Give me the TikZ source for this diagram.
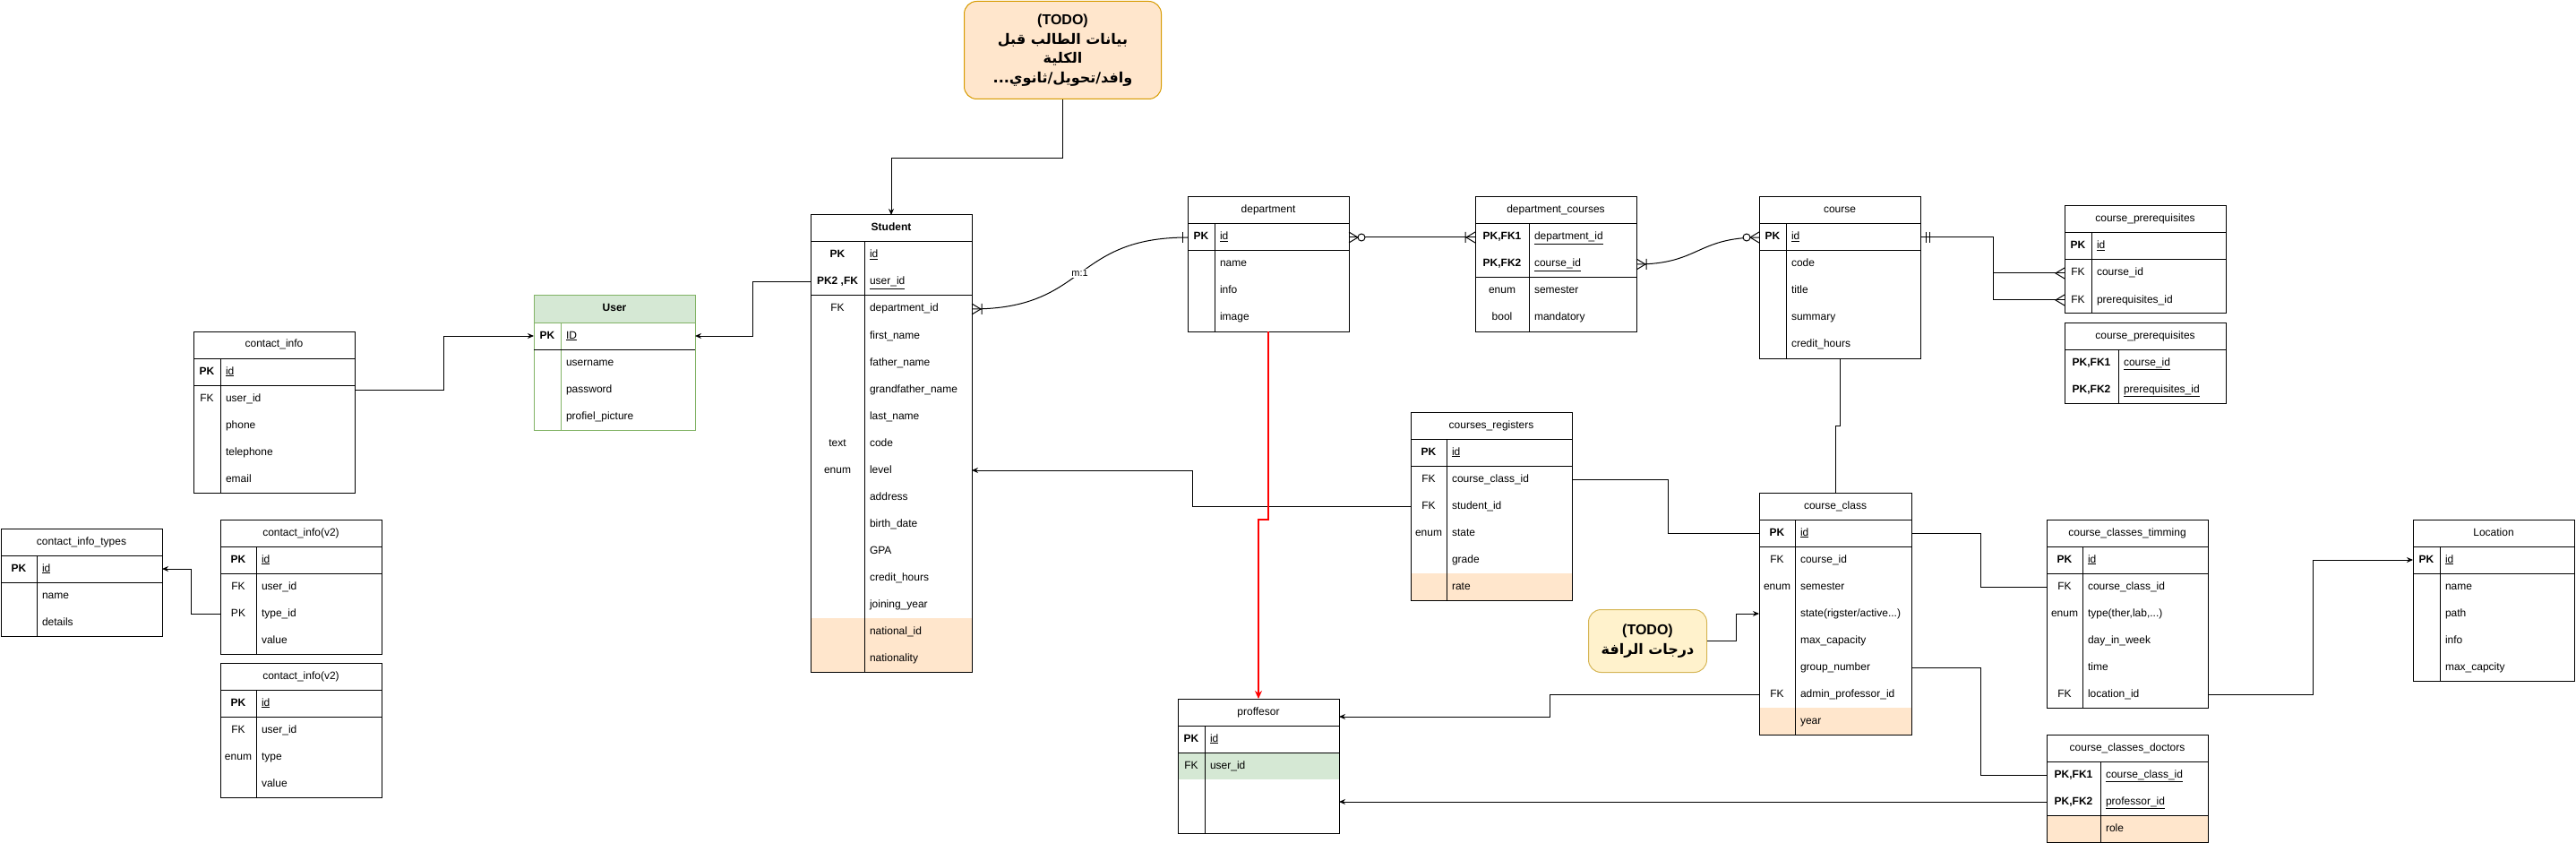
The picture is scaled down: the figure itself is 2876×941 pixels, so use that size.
\documentclass[tikz,border=0pt]{standalone}
\usepackage{fontspec}
\setmainfont{Liberation Sans}
\newfontfamily\arabicfont[Script=Arabic]{DejaVu Sans}
\TeXXeTstate=1
\usetikzlibrary{arrows.meta,calc}

\newcommand*{\erfont}{\fontsize{12}{14}\selectfont}
\definecolor{rowbeige}{HTML}{FFE6CC}
\definecolor{rowgreen}{HTML}{D5E8D4}
\definecolor{greenline}{HTML}{82B366}
\definecolor{notepeach}{HTML}{FFE6CC}
\definecolor{noteorange}{HTML}{D79B00}
\definecolor{noteyellow}{HTML}{FFF2CC}
\definecolor{notegold}{HTML}{D6B656}
\definecolor{linkred}{HTML}{FF0000}

\tikzstyle{tblhead}=[anchor=north west, minimum height=30pt, inner sep=0pt, outer sep=0pt, fill=white, font=\erfont, text height=9pt, text depth=3pt]
\tikzstyle{keycell}=[anchor=north west, minimum height=30pt, inner sep=0pt, outer sep=0pt, font=\erfont, text height=9pt, text depth=3pt]
\tikzstyle{fieldcell}=[anchor=west, minimum height=30pt, inner xsep=6pt, inner ysep=0pt, outer sep=0pt, align=left, font=\erfont, text height=9pt, text depth=3pt]
\tikzstyle{link}=[line width=1pt]
\tikzstyle{arr}=[link, -{Stealth[length=7pt, width=6pt]}]
\tikzstyle{redlink}=[line width=2pt, linkred, -{Stealth[length=9pt, width=8pt]}]
\tikzstyle{todo}=[anchor=north west, rounded corners=14pt, line width=1pt, align=center, font=\bfseries\fontsize{16}{21.5}\selectfont]
\tikzstyle{mlabel}=[fill=white, inner sep=1pt, font=\fontsize{11}{13}\selectfont]

% table parts: head, one row, outline
\newcommand{\ertable}[7][]{\def\tblw{#5}\def\keyw{#6}%
  \node[tblhead, minimum width=#5pt, #1] (#2) at (#3,#4) {#7};}
\newcommand{\errow}[5][white]{%
  \pgfmathsetmacro\fieldw{\tblw-\keyw-12}%
  \fill[#1] ($(#2.south west)+(0,{30*(#3-1)})$) rectangle ++(\tblw,30);
  \node[keycell, minimum width=\keyw pt] (#2-k#3) at ($(#2.south west)+(0,{30*(#3-1)})$) {#4};
  \node[fieldcell, text width=\fieldw pt] (#2-#3) at (#2-k#3.east) {#5};}
\newcommand{\erframe}[4][black]{%
  \draw[#1] (#2.north west) rectangle (#2-#3.south east);
  \draw[#1] (#2.south west) -- (#2.south east);
  \draw[#1] (#2-k1.north east) -- (#2-k#3.south east);
  \draw (#2-k#4.south west) -- (#2-#4.south east);}
\newcommand{\pkey}[1]{\textbf{#1}}
\newcommand{\pfield}[1]{\underline{#1}}

% crow's foot ends, #2 = 1 to the right, -1 to the left
\newcommand{\ermany}[2]{\draw[link, shift={(#1)}, xscale=#2] (0,-6) -- (10,0) -- (0,6);}
\newcommand{\erone}[2]{\draw[link, shift={(#1)}, xscale=#2] (6,-6) -- (6,6);}
\newcommand{\ermandone}[2]{\draw[link, shift={(#1)}, xscale=#2] (6,-6) -- (6,6) (10,-6) -- (10,6);}
\newcommand{\eronetomany}[2]{\draw[link, shift={(#1)}, xscale=#2] (0,-6) -- (10,0) -- (0,6) (11,-6) -- (11,6);}
\newcommand{\erzerotomany}[2]{\draw[link, shift={(#1)}, xscale=#2] (0,-6) -- (10,0) -- (0,6);
  \draw[link, fill=white, shift={(#1)}, xscale=#2] (14,0) circle[radius=4pt];}

\begin{document}
\begin{tikzpicture}[x=1pt, y=-1pt, line width=1pt]
    \useasboundingbox (0,0) rectangle (2876,941);

    % notes
    \node[todo, fill=notepeach, draw=noteorange, minimum width=220pt, minimum height=109pt] (todoa) at (1076,1)
        {(TODO)\\ {\arabicfont\beginR بيانات الطالب قبل\endR}\\ {\arabicfont\beginR الكلية\endR}\\
         {\arabicfont ...\hbox{ثانوي}/\hbox{تحويل}/\hbox{وافد}}};
    \node[todo, fill=noteyellow, draw=notegold, minimum width=132pt, minimum height=70pt] (todob) at (1773,680)
        {(TODO)\\ {\arabicfont\beginR درجات الرافة\endR}};

    % contact_info
    \ertable{cinfo}{216}{370}{180}{30}{contact\_info}
    \errow{cinfo}{1}{\pkey{PK}}{\pfield{id}}
    \errow{cinfo}{2}{FK}{user\_id}
    \errow{cinfo}{3}{}{phone}
    \errow{cinfo}{4}{}{telephone}
    \errow{cinfo}{5}{}{email}
    \erframe{cinfo}{5}{1}

    % contact_info_types
    \ertable{ctypes}{1}{590}{180}{40}{contact\_info\_types}
    \errow{ctypes}{1}{\pkey{PK}}{\pfield{id}}
    \errow{ctypes}{2}{}{name}
    \errow{ctypes}{3}{}{details}
    \erframe{ctypes}{3}{1}

    % contact_info(v2)
    \ertable{cinfoa}{246}{580}{180}{40}{contact\_info(v2)}
    \errow{cinfoa}{1}{\pkey{PK}}{\pfield{id}}
    \errow{cinfoa}{2}{FK}{user\_id}
    \errow{cinfoa}{3}{PK}{type\_id}
    \errow{cinfoa}{4}{}{value}
    \erframe{cinfoa}{4}{1}

    \ertable{cinfob}{246}{740}{180}{40}{contact\_info(v2)}
    \errow{cinfob}{1}{\pkey{PK}}{\pfield{id}}
    \errow{cinfob}{2}{FK}{user\_id}
    \errow{cinfob}{3}{enum}{type}
    \errow{cinfob}{4}{}{value}
    \erframe{cinfob}{4}{1}

    % User
    \ertable[fill=rowgreen, font=\erfont\bfseries]{user}{596}{330}{180}{30}{User}
    \errow{user}{1}{\pkey{PK}}{\pfield{ID}}
    \errow{user}{2}{}{username}
    \errow{user}{3}{}{password}
    \errow{user}{4}{}{profiel\_picture}
    \erframe[greenline]{user}{4}{1}

    % Student
    \ertable[font=\erfont\bfseries]{stu}{905}{240}{180}{60}{Student}
    \errow{stu}{1}{\pkey{PK}}{\pfield{id}}
    \errow{stu}{2}{\pkey{PK2 ,FK}}{\pfield{user\_id}}
    \errow{stu}{3}{FK}{department\_id}
    \errow{stu}{4}{}{first\_name}
    \errow{stu}{5}{}{father\_name}
    \errow{stu}{6}{}{grandfather\_name}
    \errow{stu}{7}{}{last\_name}
    \errow{stu}{8}{text}{code}
    \errow{stu}{9}{enum}{level}
    \errow{stu}{10}{}{address}
    \errow{stu}{11}{}{birth\_date}
    \errow{stu}{12}{}{GPA}
    \errow{stu}{13}{}{credit\_hours}
    \errow{stu}{14}{}{joining\_year}
    \errow[rowbeige]{stu}{15}{}{national\_id}
    \errow[rowbeige]{stu}{16}{}{nationality}
    \erframe{stu}{16}{2}

    % department
    \ertable{dep}{1326}{220}{180}{30}{department}
    \errow{dep}{1}{\pkey{PK}}{\pfield{id}}
    \errow{dep}{2}{}{name}
    \errow{dep}{3}{}{info}
    \errow{dep}{4}{}{image}
    \erframe{dep}{4}{1}

    % department_courses
    \ertable{depc}{1647}{220}{180}{60}{department\_courses}
    \errow{depc}{1}{\pkey{PK,FK1}}{\pfield{department\_id}}
    \errow{depc}{2}{\pkey{PK,FK2}}{\pfield{course\_id}}
    \errow{depc}{3}{enum}{semester}
    \errow{depc}{4}{bool}{mandatory}
    \erframe{depc}{4}{2}

    % course
    \ertable{crs}{1964}{220}{180}{30}{course}
    \errow{crs}{1}{\pkey{PK}}{\pfield{id}}
    \errow{crs}{2}{}{code}
    \errow{crs}{3}{}{title}
    \errow{crs}{4}{}{summary}
    \errow{crs}{5}{}{credit\_hours}
    \erframe{crs}{5}{1}

    % course_prerequisites
    \ertable{preqa}{2305}{230}{180}{30}{course\_prerequisites}
    \errow{preqa}{1}{\pkey{PK}}{\pfield{id}}
    \errow{preqa}{2}{FK}{course\_id}
    \errow{preqa}{3}{FK}{prerequisites\_id}
    \erframe{preqa}{3}{1}

    \ertable{preqb}{2305}{360}{180}{60}{course\_prerequisites}
    \errow{preqb}{1}{\pkey{PK,FK1}}{\pfield{course\_id}}
    \errow{preqb}{2}{\pkey{PK,FK2}}{\pfield{prerequisites\_id}}
    \erframe{preqb}{2}{2}

    % courses_registers
    \ertable{creg}{1575}{460}{180}{40}{courses\_registers}
    \errow{creg}{1}{\pkey{PK}}{\pfield{id}}
    \errow{creg}{2}{FK}{course\_class\_id}
    \errow{creg}{3}{FK}{student\_id}
    \errow{creg}{4}{enum}{state}
    \errow{creg}{5}{}{grade}
    \errow[rowbeige]{creg}{6}{}{rate}
    \erframe{creg}{6}{1}

    % course_class
    \ertable{ccls}{1964}{550}{170}{40}{course\_class}
    \errow{ccls}{1}{\pkey{PK}}{\pfield{id}}
    \errow{ccls}{2}{FK}{course\_id}
    \errow{ccls}{3}{enum}{semester}
    \errow{ccls}{4}{}{state(rigster/active...)}
    \errow{ccls}{5}{}{max\_capacity}
    \errow{ccls}{6}{}{group\_number}
    \errow{ccls}{7}{FK}{admin\_professor\_id}
    \errow[rowbeige]{ccls}{8}{}{year}
    \erframe{ccls}{8}{1}

    % proffesor
    \ertable{prof}{1315}{780}{180}{30}{proffesor}
    \errow{prof}{1}{\pkey{PK}}{\pfield{id}}
    \errow[rowgreen]{prof}{2}{FK}{user\_id}
    \errow{prof}{3}{}{}
    \errow{prof}{4}{}{}
    \erframe{prof}{4}{1}

    % course_classes_timming
    \ertable{ctim}{2285}{580}{180}{40}{course\_classes\_timming}
    \errow{ctim}{1}{\pkey{PK}}{\pfield{id}}
    \errow{ctim}{2}{FK}{course\_class\_id}
    \errow{ctim}{3}{enum}{type(ther,lab,...)}
    \errow{ctim}{4}{}{day\_in\_week}
    \errow{ctim}{5}{}{time}
    \errow{ctim}{6}{FK}{location\_id}
    \erframe{ctim}{6}{1}

    % course_classes_doctors
    \ertable{cdoc}{2285}{820}{180}{60}{course\_classes\_doctors}
    \errow{cdoc}{1}{\pkey{PK,FK1}}{\pfield{course\_class\_id}}
    \errow{cdoc}{2}{\pkey{PK,FK2}}{\pfield{professor\_id}}
    \errow[rowbeige]{cdoc}{3}{}{role}
    \erframe{cdoc}{3}{2}

    % Location
    \ertable{loc}{2694}{580}{180}{30}{Location}
    \errow{loc}{1}{\pkey{PK}}{\pfield{id}}
    \errow{loc}{2}{}{name}
    \errow{loc}{3}{}{path}
    \errow{loc}{4}{}{info}
    \errow{loc}{5}{}{max\_capcity}
    \erframe{loc}{5}{1}

    % links
    \draw[arr] (todoa.south) -- ++(0,66) -| (stu.north);
    \draw[arr] (stu-k2.west) -- ++(-65,0) |- (user-1.east);
    \draw[arr] ([yshift=-5pt]cinfo-2.north east) -- ++(99,0) |- (user-k1.west);
    \draw[arr] (cinfoa-k3.west) -- ++(-33,0) |- (ctypes-1.east);
    \draw[link] (stu-3.east) .. controls +(130,0) and +(-130,0) .. (dep-k1.west) node[mlabel, midway] {m:1};
    \draw[link] (dep-1.east) -- (depc-k1.west);
    \draw[link] (crs-k1.west) .. controls +(-70,0) and +(70,0) .. (depc-2.east);
    \draw[link] (crs-1.east) -- ++(81,0) coordinate (crsfork) |- (preqa-k2.west);
    \draw[link] (crsfork) |- (preqa-k3.west);
    \draw[link] (crs-5.south -| crs.south) -- ++(0,75) -| (ccls.north);
    \draw[arr] (creg-k3.west) -- ++(-244,0) |- (stu-9.east);
    \draw[link] (creg-2.east) -- ++(107,0) |- (ccls-k1.west);
    \draw[arr] (todob.east) -- ++(32,0) |- (ccls-k4.west);
    \draw[arr] (ccls-k7.west) -- ++(-234,0) |- ([yshift=-5pt]prof.east);
    \draw[link] (ccls-1.east) -- ++(77,0) |- (ctim-k2.west);
    \draw[link] (ccls-6.east) -- ++(77,0) |- (cdoc-k1.west);
    \draw[arr] (cdoc-k2.west) -- (cdoc-k2.west -| prof-4.east);
    \draw[arr] (ctim-6.east) -- ++(117,0) |- (loc-k1.west);
    \draw[redlink] (dep-4.south -| dep.south) -- ++(0,210) -| (prof.north);

    % relation ends
    \eronetomany{stu-3.east}{1}
    \erone{dep-k1.west}{-1}
    \erzerotomany{dep-1.east}{1}
    \eronetomany{depc-k1.west}{-1}
    \erzerotomany{crs-k1.west}{-1}
    \eronetomany{depc-2.east}{1}
    \ermandone{crs-1.east}{1}
    \ermany{preqa-k2.west}{-1}
    \ermany{preqa-k3.west}{-1}
\end{tikzpicture}
\end{document}
